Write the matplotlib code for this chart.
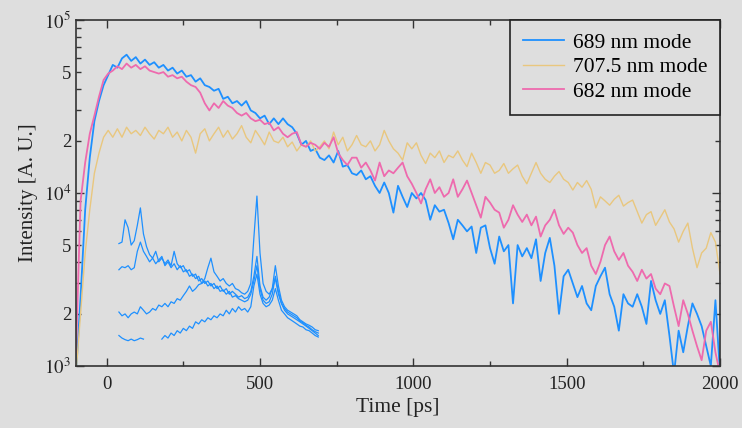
import numpy as np
import matplotlib
matplotlib.use("Agg")
import matplotlib.pyplot as plt
from matplotlib.ticker import FixedLocator, FixedFormatter, MultipleLocator

# time axis of the decay curves, ps (15 ps steps)
time_ps = np.arange(-100, 2001, 15)

# intensities in units of 1e3 counts
mode_689 = [
    0.9, 2.5, 8, 16, 26, 34, 42, 48, 55, 53, 60, 63, 58, 61, 56, 59, 55, 57, 53, 55,
    51, 53, 49, 51, 47, 48, 44, 46, 42, 41, 39, 40, 35, 36, 33, 34, 32, 34, 30, 29,
    27, 28, 25, 27, 25, 27, 25, 24, 22, 19, 20, 17.5, 18, 16, 15.5, 16.5, 15, 17.5, 14.2, 14.5,
    13, 12.7, 13.5, 12, 12.5, 11, 10, 11.5, 10, 7.7, 11, 9.5, 8.3, 10, 9.3, 10, 9.1, 7, 8.5, 7.8,
    8, 6.7, 5.4, 7, 6.5, 6, 6.4, 4.5, 6.3, 6.5, 4.8, 3.9, 5.6, 4.6, 5, 2.3, 5, 4.3, 4.8, 4.2,
    5.4, 3.1, 4.5, 5.5, 3.8, 2, 3.3, 3.6, 3, 2.5, 2.9, 2.3, 2.1, 2.9, 3.3, 3.7, 2.6, 2.2, 1.6, 2.6,
    2.3, 2.2, 2.6, 2.2, 1.75, 3.1, 2.4, 2.0, 2.4, 1.5, 0.9, 1.6, 1.2, 1.7, 2.3, 2.0, 1.7, 1.3, 1.0, 2.4,
    0.9,
]
mode_707 = [
    0.9, 2.0, 4.5, 8, 13, 17, 21, 23, 21, 23.5, 21, 24, 22, 23, 21.5, 24, 22, 20.5, 23, 22,
    24, 21, 22.5, 20, 23, 21, 17, 22, 23.5, 20, 22, 24, 21, 23, 20.5, 22, 24.5, 21, 19.5, 23,
    21, 19, 22.5, 20, 19.5, 21, 18.5, 19.7, 17.5, 19, 18.5, 20, 17.5, 18.5, 20, 18, 22.5, 19, 21, 17.5,
    19, 21.5, 19, 18.5, 20, 17.5, 19, 23, 20, 18, 17, 15.5, 19.5, 18, 19.5, 16.5, 14.8, 17, 16, 17.5,
    15, 16.5, 16, 17.5, 15.5, 14.2, 17, 15, 13, 15, 14.5, 13, 13.5, 14.8, 13, 13.8, 14.5, 12.5, 11.3, 13,
    15, 13, 12, 11.5, 12.5, 13.3, 12, 11.5, 10.4, 11.5, 10.8, 11.8, 10.5, 8.2, 9.5, 9, 8.5, 9.2, 9.7, 8.4,
    8.8, 9.1, 7.8, 6.7, 7.5, 7.8, 6.5, 7.2, 8, 6.8, 6.2, 5.2, 6, 6.7, 4.8, 3.7, 4.5, 4.8, 5.9, 5.2,
    3.4,
]
mode_682 = [
    1.2, 9, 15, 22, 28, 36, 45, 49, 51, 54, 52, 56, 53, 55, 52, 54, 51, 50, 49, 50,
    47, 48, 46, 47, 44, 42, 41, 38, 33, 30, 33, 31, 34, 32, 31, 29, 28, 29, 27, 26,
    26.5, 25, 25.5, 23, 24, 22, 21, 22, 22.5, 19, 18.5, 19.5, 19, 18, 19.5, 18.5, 21, 17, 15.5, 14.5,
    16, 16, 14, 15, 13.5, 11.8, 15, 12.5, 13.5, 13, 14, 15, 12.5, 11.3, 10, 8.7, 10.5, 12, 10, 10.8,
    9.5, 10, 12, 9.5, 10.5, 11.8, 10, 8.5, 7.2, 9.5, 8.8, 8, 7.7, 6.3, 7, 8.5, 7.5, 6.8, 7.5, 6.5,
    7.3, 5.6, 6.5, 7, 8, 6.5, 5.8, 6.3, 5.9, 5, 4.5, 4.8, 3.8, 3.4, 4, 5, 5.6, 4.6, 4.1, 4.5,
    3.8, 3.5, 3.1, 3.6, 3.2, 3.4, 2.8, 2.6, 3, 2.9, 2.2, 1.7, 2.4, 2.0, 1.6, 1.3, 1.08, 1.6, 1.8, 1.2,
    0.9,
]

# small spectra drawn inside the plot (x in ps, intensity in 1e3)
inset_x = np.arange(40, 691, 10)
inset_a = [
    5.1, 5.2, 7.0, 6.3, 5.0, 5.3, 6.5, 8.2, 5.8, 4.9, 4.4, 4.2, 4.6, 4.0, 4.2, 3.9, 4.1, 3.8, 4.6, 3.9,
    3.7, 3.8, 3.5, 3.6, 3.3, 3.4, 3.1, 3.2, 3.0, 3.1, 2.9, 3.0, 2.8, 2.9, 2.7, 2.8, 2.6, 2.7, 2.6, 2.5,
    2.55, 2.45, 2.5, 2.7, 3.3, 4.3, 2.9, 2.5, 2.4, 2.5, 2.8, 3.8, 2.9, 2.4, 2.2, 2.1, 2.05, 2.0, 1.95, 1.85,
    1.8, 1.75, 1.72, 1.68, 1.62, 1.6,
]
inset_b = [
    3.6, 3.75, 3.7, 3.8, 3.6, 3.7, 4.6, 5.2, 4.6, 4.3, 4.0, 4.2, 3.9, 4.1, 4.3, 3.8, 4.0, 3.7, 3.9, 3.6,
    3.8, 3.5, 3.6, 3.3, 3.4, 3.2, 3.3, 3.0, 3.1, 2.9, 3.0, 2.8, 2.9, 2.7, 2.75, 2.6, 2.7, 2.5, 2.55, 2.45,
    2.4, 2.35, 2.4, 2.6, 3.1, 3.8, 2.8, 2.4, 2.3, 2.35, 2.6, 3.3, 2.7, 2.3, 2.15, 2.05, 2.0, 1.95, 1.9, 1.82,
    1.78, 1.72, 1.68, 1.62, 1.58, 1.55,
]
inset_c = [
    2.05, 1.95, 2.0, 1.9, 2.0, 2.05, 2.0, 2.2, 2.1, 2.0, 2.05, 2.15, 2.1, 2.25, 2.2, 2.3, 2.2, 2.35, 2.3, 2.45,
    2.4, 2.55, 2.7, 2.9, 2.7, 2.8, 2.95, 3.0, 3.2, 3.7, 4.2, 3.5, 3.3, 3.1, 3.2, 3.0, 2.9, 3.0, 2.8, 2.75,
    2.65, 2.6, 2.7, 3.0, 5.5, 9.6, 4.5, 3.0, 2.7, 2.6, 2.8, 3.2, 2.6, 2.3, 2.1, 2.0, 1.95, 1.9, 1.85, 1.8,
    1.75, 1.7, 1.65, 1.6, 1.55, 1.5,
]
inset_d = [
    1.5, 1.45, 1.42, 1.4, 1.43, 1.4, 1.42, 1.45, 1.43, np.nan, np.nan, np.nan, np.nan, np.nan, 1.43, 1.5, 1.45, 1.55, 1.5, 1.6,
    1.55, 1.65, 1.6, 1.7, 1.65, 1.8, 1.75, 1.85, 1.8, 1.9, 1.85, 1.95, 1.9, 2.0, 1.95, 2.1, 2.0, 2.15, 2.05, 2.2,
    2.1, 2.15, 2.05, 2.2, 2.9, 3.4, 2.6, 2.3, 2.2, 2.25, 2.4, 2.8, 2.4, 2.1, 2.0, 1.9, 1.85, 1.8, 1.75, 1.7,
    1.68, 1.62, 1.6, 1.55, 1.5, 1.47,
]

labels = ["689 nm mode", "707.5 nm mode", "682 nm mode"]
blue, yellow, pink = "#1e90ff", "#e9c77e", "#ee6aae"
bg = "#dedede"

plt.rcParams["font.family"] = ["Liberation Serif", "DejaVu Serif"]
plt.rcParams["mathtext.fontset"] = "stix"

fig = plt.figure(figsize=(7.42, 4.28), dpi=100, facecolor=bg)
ax = fig.add_axes([0.1024, 0.1449, 0.868, 0.8084], facecolor=bg)

k = 1e3
ax.plot(time_ps, np.array(mode_689) * k, color=blue, lw=1.3, label=labels[0])
ax.plot(time_ps, np.array(mode_707) * k, color=yellow, lw=1.0, label=labels[1])
ax.plot(time_ps, np.array(mode_682) * k, color=pink, lw=1.3, label=labels[2])
for spec in (inset_a, inset_b, inset_c, inset_d):
    ax.plot(inset_x, np.array(spec) * k, color=blue, lw=0.9)

ax.set_yscale("log")
ax.set_xlim(-100, 2000)
ax.set_ylim(1e3, 1e5)

ax.xaxis.set_major_locator(MultipleLocator(500))
ax.xaxis.set_minor_locator(MultipleLocator(250))
ax.yaxis.set_major_locator(FixedLocator([1e3, 1e4, 1e5]))
ax.yaxis.set_major_formatter(FixedFormatter([r"$10^3$", r"$10^4$", r"$10^5$"]))
minor_pos = [m * d for d in (1e3, 1e4) for m in range(2, 10)]
ax.yaxis.set_minor_locator(FixedLocator(minor_pos))
ax.yaxis.set_minor_formatter(FixedFormatter(["2" if m == 2 else "5" if m == 5 else ""
                                             for d in (1e3, 1e4) for m in range(2, 10)]))

ax.tick_params(which="both", direction="in", top=True, right=True, colors="#333333",
               labelcolor="#222222", labelsize=13.5)
ax.tick_params(which="major", length=6, width=1)
ax.tick_params(which="minor", length=3.5, width=1)
ax.tick_params(axis="x", which="major", pad=7)
for s in ax.spines.values():
    s.set_color("#333333")
    s.set_linewidth(1.2)

ax.set_xlabel("Time [ps]", fontsize=15.5, color="#222222", labelpad=4)
ax.set_ylabel("Intensity [A. U.]", fontsize=15, color="#222222", labelpad=4)

leg = ax.legend(loc="upper right", borderaxespad=0, fontsize=15.5, handlelength=1.9,
                handletextpad=0.4, fancybox=False, framealpha=1, facecolor=bg,
                edgecolor="#222222", labelspacing=0.2, borderpad=0.6)
leg.get_frame().set_linewidth(1.2)
for line in leg.get_lines():
    line.set_linewidth(1.3 if line.get_color() != yellow else 1.0)

fig.savefig("out.png", dpi=100, facecolor=bg)
